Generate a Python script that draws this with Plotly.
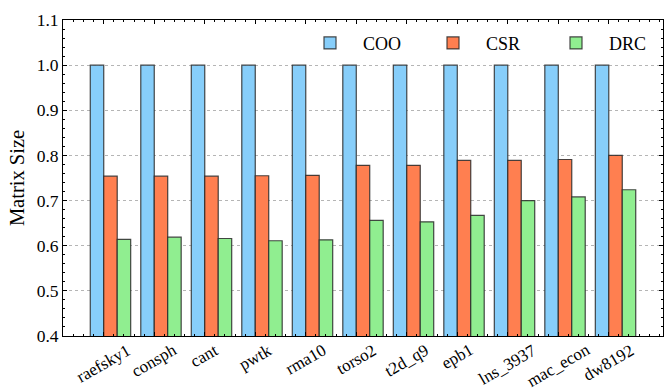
import plotly.graph_objects as go

categories = ["raefsky1", "consph", "cant", "pwtk", "rma10", "torso2",
              "t2d_q9", "epb1", "lns_3937", "mac_econ", "dw8192"]
coo = [1.0] * 11
csr = [0.754, 0.754, 0.754, 0.755, 0.756, 0.778, 0.778, 0.789, 0.789, 0.791, 0.800]
drc = [0.614, 0.619, 0.616, 0.611, 0.613, 0.656, 0.653, 0.667, 0.700, 0.708, 0.724]
y_ticks = [0.4, 0.5, 0.6, 0.7, 0.8, 0.9, 1.0, 1.1]

FONT = "Liberation Serif"
w = 0.8 / 3
xs = list(range(len(categories)))
edge = dict(color="rgba(40,40,40,0.85)", width=1.2)

fig = go.Figure()
for name, vals, color, off in [("COO", coo, "#87CEFA", -w),
                               ("CSR", csr, "#FF7F50", 0.0),
                               ("DRC", drc, "#90EE90", w)]:
    fig.add_trace(go.Bar(x=xs, y=vals, name=name, width=w, offset=off,
                         marker=dict(color=color, line=edge)))

lo, hi = -w, len(categories) - 1 + 2 * w
pad = 0.05 * (hi - lo)

for i, c in enumerate(categories):
    fig.add_annotation(x=i, xref="x", y=0, yref="paper", text=c, textangle=-30,
                       xanchor="center", yanchor="top", yshift=-3, showarrow=False,
                       borderpad=0,
                       font=dict(family=FONT, size=17, color="black"))

fig.update_layout(
    width=664, height=391,
    margin=dict(l=63, r=1, t=20, b=55, autoexpand=False),
    paper_bgcolor="white", plot_bgcolor="white",
    barmode="overlay",
    font=dict(family=FONT, size=17, color="black"),
    showlegend=True,
    legend=dict(orientation="h", x=0.39, xanchor="left", y=0.985, yanchor="top",
                bgcolor="rgba(255,255,255,0)", font=dict(family=FONT, size=18),
                entrywidth=52, entrywidthmode="pixels", itemwidth=56,
                traceorder="normal"),
    xaxis=dict(range=[lo - pad, hi + pad], tickvals=xs, showticklabels=False,
               showgrid=False, zeroline=False, showline=True, linecolor="black",
               linewidth=1, mirror="allticks", ticks="inside", ticklen=4,
               tickcolor="black",
               minor=dict(ticks="inside", dtick=0.2, ticklen=2, tickcolor="black")),
    yaxis=dict(range=[0.4, 1.1], tickvals=y_ticks, tickformat=".1f",
               showgrid=True, gridcolor="#b5b5b5", griddash="dot", gridwidth=1,
               zeroline=False, showline=True, linecolor="black", linewidth=1,
               mirror="allticks", ticks="inside", ticklen=4, tickcolor="black",
               tickfont=dict(family=FONT, size=17.5),
               title=dict(text="Matrix Size", font=dict(family=FONT, size=20.5), standoff=6),
               minor=dict(ticks="inside", dtick=0.02, ticklen=2, tickcolor="black",
                          showgrid=False)),
)

fig.write_html("out.html", config={"displayModeBar": False},
               post_script="document.body.style.margin='0';")
